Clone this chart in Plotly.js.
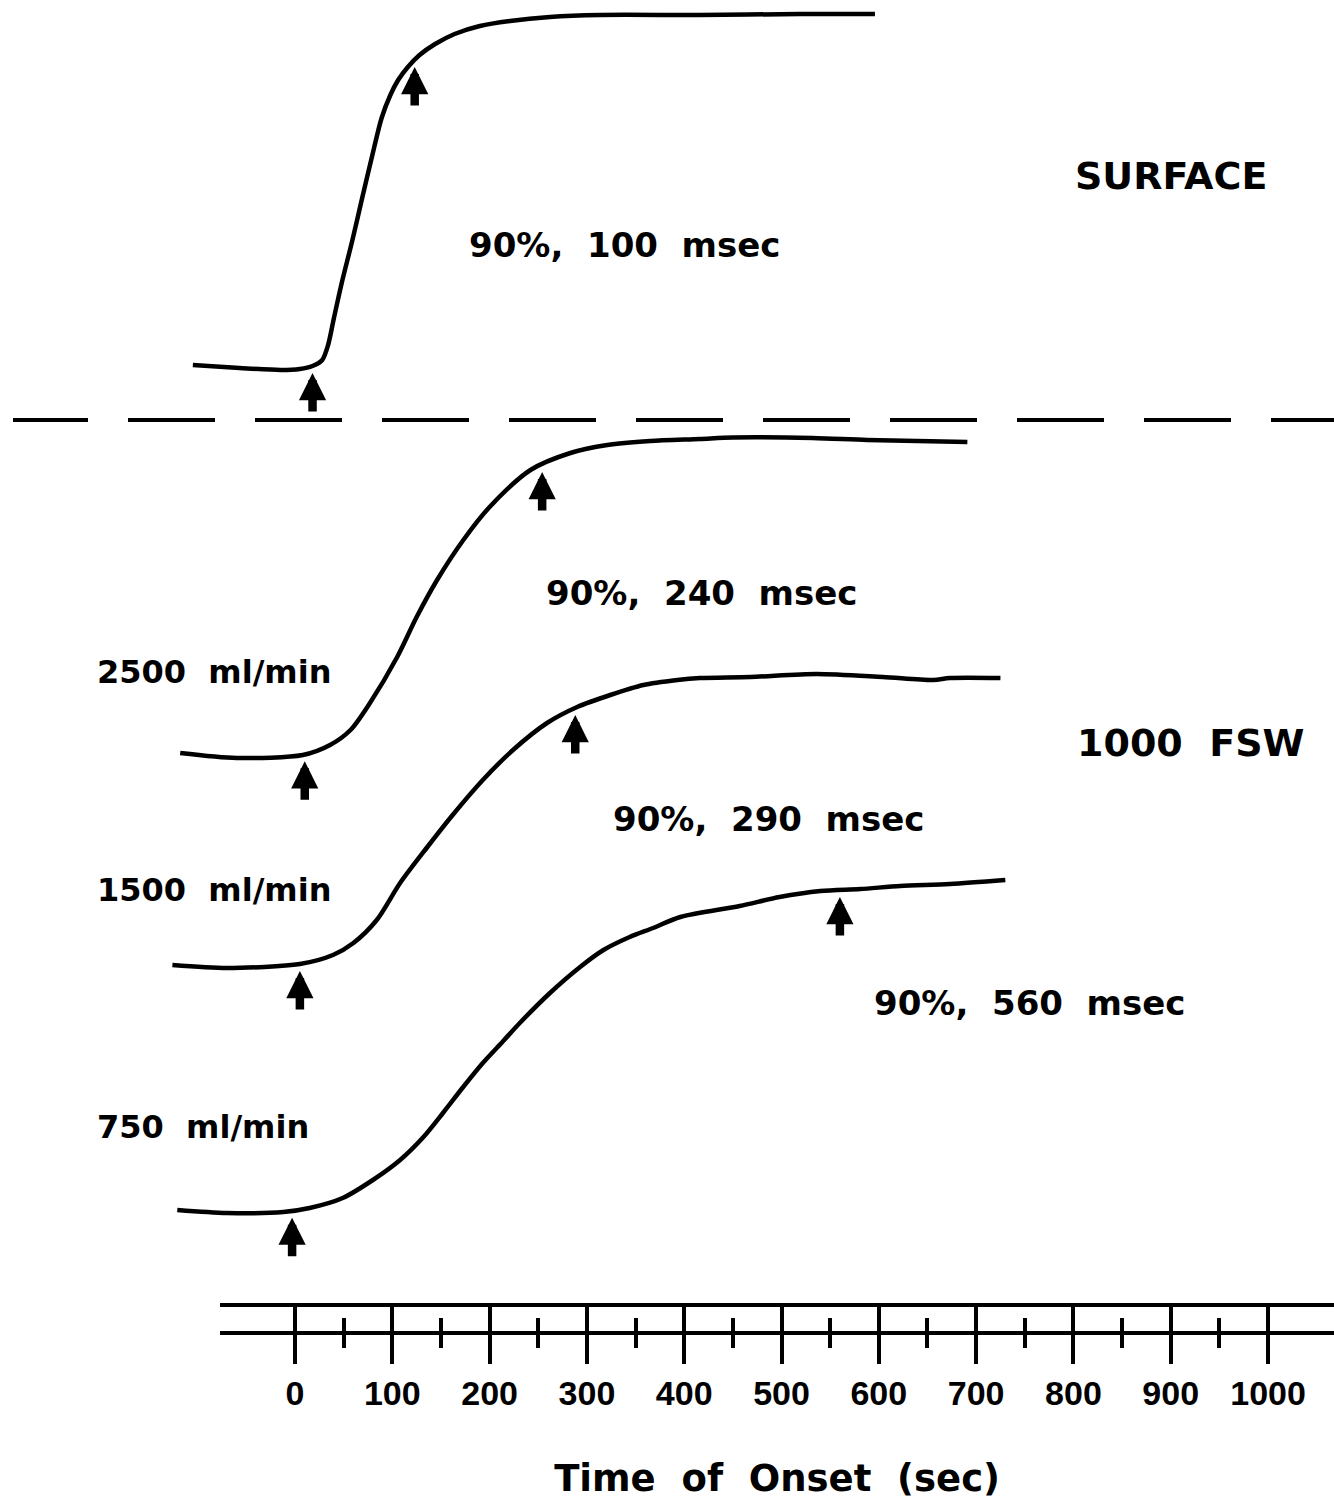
<!DOCTYPE html>
<html><head><meta charset="utf-8">
<script src="https://cdn.plot.ly/plotly-3.0.1.min.js"></script>
<style>html,body{margin:0;padding:0;background:#fff}</style>
</head><body><div id="chart" style="width:1334px;height:1500px"></div>
<script>
// ---- data (x: time on the axis scale, y: trace level, arbitrary downward units) ----
const surfaceX  = [-105,-57,-15,5,18,28,34,40,48,59,69,79,89,98,106,116,128,144,164,190,221,262,313,416,519,596];
const surfaceY  = [365,368,370,369,366,360,345,318,283,240,198,157,118,95,80,67,55,44,34,26,21,17,15,15,14,14];
const flow2500X = [-118,-60,8,36,57,77,105,125,146,173,200,242,283,321,365,416,450,532,588,691];
const flow2500Y = [753,758,755,745,730,703,657,617,580,540,507,470,453,445,441,439,437.5,438,440,442];
const flow1500X = [-126,-70,5,39,60,84,108,136,162,193,224,259,290,324,358,393,416,468,536,604,656,673,725];
const flow1500Y = [965,968,964,955,943,920,883,847,815,780,750,723,707,695,685,680,678,677,674,677,680,678,678];
const flow750X  = [-121,-70,-12,15,49,80,108,132,152,172,193,214,231,262,293,317,344,368,396,457,498,540,581,622,673,730];
const flow750Y  = [1210,1213,1212,1208,1198,1180,1160,1137,1113,1088,1063,1041,1023,993,967,950,937,928,917,906,897,891,889,886,884,880];

const onsetX   = [18, 10, 5, -3];          // arrow at onset of each trace
const ninetyX  = [123, 254, 288, 560];     // arrow at 90% response
const ninetyLabels = ['90%,\u00a0\u00a0100\u00a0\u00a0msec','90%,\u00a0\u00a0240\u00a0\u00a0msec','90%,\u00a0\u00a0290\u00a0\u00a0msec','90%,\u00a0\u00a0560\u00a0\u00a0msec'];
const flowLabels = ['2500\u00a0\u00a0ml/min','1500\u00a0\u00a0ml/min','750\u00a0\u00a0ml/min'];
const depthLabels = ['SURFACE','1000\u00a0\u00a0FSW'];
const tickValues = [0,100,200,300,400,500,600,700,800,900,1000];
const tickLabels = ['0','100','200','300','400','500','600','700','800','900','1000'];
const minorTickValues = [50,150,250,350,450,550,650,750,850,950];
const axisTitle = 'Time\u00a0\u00a0of\u00a0\u00a0Onset\u00a0\u00a0(sec)';

// ---- figure ----
const W = 1334, H = 1500;
const X_RANGE = [-303.2, 1067.8];
const AXIS_LEFT = 0.165;
const x2range = [X_RANGE[0] + AXIS_LEFT*(X_RANGE[1]-X_RANGE[0]), X_RANGE[1]];
const FONT = 'DejaVu Sans, Liberation Sans, sans-serif';
const TICKFONT = 'Liberation Sans, Arial, sans-serif';

const series = [[surfaceX,surfaceY],[flow2500X,flow2500Y],[flow1500X,flow1500Y],[flow750X,flow750Y]];
const traces = series.map(([x,y]) => ({
  type:'scatter', mode:'lines', x:x, y:y, xaxis:'x', yaxis:'y',
  line:{color:'black', width:4.5, shape:'spline', smoothing:0.8},
  hoverinfo:'skip', showlegend:false
}));
['x2','x3','x4'].forEach(ax => traces.push({type:'scatter', mode:'markers', x:[], y:[], xaxis:ax, yaxis:'y', showlegend:false, hoverinfo:'skip'}));

function interp(xs, ys, x){
  for(let i=0;i<xs.length-1;i++){
    if(x>=xs[i] && x<=xs[i+1]){ const t=(x-xs[i])/(xs[i+1]-xs[i]); return ys[i]+t*(ys[i+1]-ys[i]); }
  }
  return ys[ys.length-1];
}

const annotations = [];
series.forEach(([xs,ys],i) => {
  [onsetX[i], ninetyX[i]].forEach(ax => {
    annotations.push({x:ax, y:interp(xs,ys,ax)+7, xref:'x', yref:'y', text:'', showarrow:true,
      arrowhead:2, arrowsize:0.64, arrowwidth:8.5, arrowcolor:'black', ax:0, ay:40, standoff:0});
  });
});
const txt = (text, x, y, size, xanchor) => ({text:'<b>'+text+'</b>', x, y, xref:'x', yref:'y', showarrow:false,
  xanchor: xanchor||'center', yanchor:'middle', font:{family:FONT, size:size, color:'black'}});
annotations.push(txt(depthLabels[0], 900, 176, 38));
annotations.push(txt(depthLabels[1], 920, 743, 38));
annotations.push(txt(ninetyLabels[0], 339, 245, 34));
annotations.push(txt(ninetyLabels[1], 418, 593, 34));
annotations.push(txt(ninetyLabels[2], 487, 819, 34));
annotations.push(txt(ninetyLabels[3], 755, 1003, 34));
annotations.push(txt(flowLabels[0], -205.5, 672, 32, 'left'));
annotations.push(txt(flowLabels[1], -205.5, 890, 32, 'left'));
annotations.push(txt(flowLabels[2], -205.5, 1127, 32, 'left'));

const common = {domain:[AXIS_LEFT,1], range:x2range, anchor:'free', showgrid:false, zeroline:false, fixedrange:true};
const layout = {
  width:W, height:H, margin:{l:0,r:0,t:0,b:0},
  paper_bgcolor:'white', plot_bgcolor:'rgba(0,0,0,0)', showlegend:false,
  xaxis:{domain:[0,1], range:X_RANGE, visible:false, fixedrange:true},
  yaxis:{domain:[0,1], range:[H,0], visible:false, fixedrange:true},
  xaxis2:Object.assign({}, common, {position:(H-1333)/H, showline:true, linewidth:4, linecolor:'black',
    ticks:'outside', ticklen:29, tickwidth:4, tickcolor:'black', tickmode:'array', tickvals:tickValues, ticktext:tickLabels.map(t=>'<b>'+t+'</b>'),
    tickfont:{family:TICKFONT, size:34, color:'black'},
    minor:{tickmode:'array', tickvals:minorTickValues, ticks:'outside', ticklen:13, tickwidth:4, tickcolor:'black'},
    title:{text:'<b>'+axisTitle+'</b>', font:{family:FONT, size:37, color:'black'}, standoff:54}}),
  xaxis3:Object.assign({}, common, {position:(H-1333)/H, showline:false,
    ticks:'inside', ticklen:28, tickwidth:4, tickcolor:'black', tickmode:'array', tickvals:tickValues, showticklabels:false,
    minor:{tickmode:'array', tickvals:minorTickValues, ticks:'inside', ticklen:15, tickwidth:4, tickcolor:'black'}}),
  xaxis4:Object.assign({}, common, {position:(H-1305)/H, showline:true, linewidth:4, linecolor:'black', ticks:'', showticklabels:false}),
  shapes:[
    {type:'line', xref:'paper', yref:'y', x0:13/W, x1:88/W, y0:420, y1:420, line:{color:'black', width:4}},
    {type:'line', xref:'paper', yref:'y', x0:128/W, x1:1, y0:420, y1:420, line:{color:'black', width:4, dash:'87px,40px'}}
  ],
  annotations:annotations
};
Plotly.newPlot('chart', traces, layout, {staticPlot:true, displayModeBar:false});
</script></body></html>
